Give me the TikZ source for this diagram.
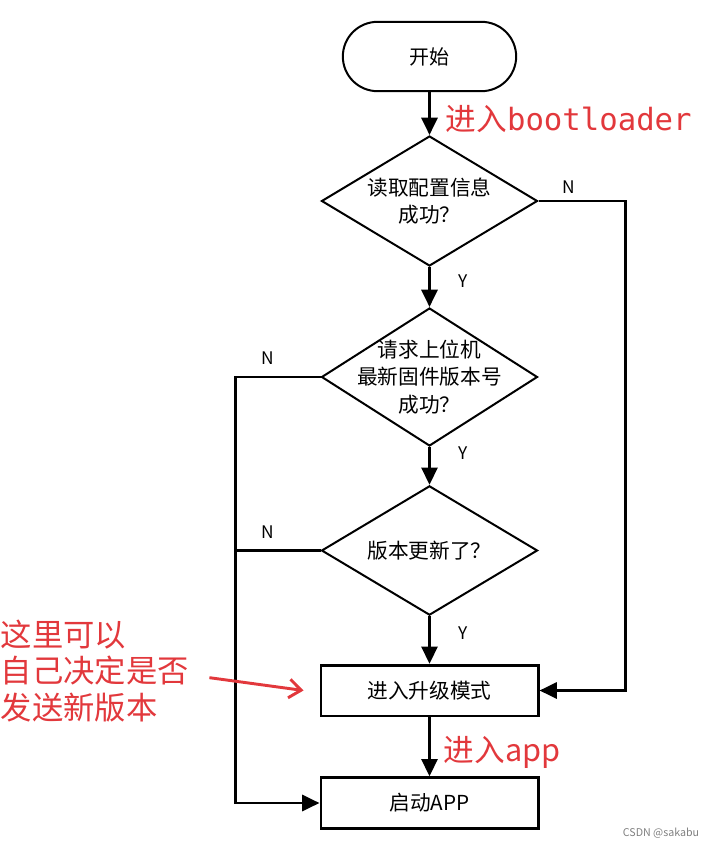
\documentclass[tikz,border=0pt]{standalone}
\usepackage{fontspec}
\setmainfont{Noto Sans CJK SC}
\newfontfamily\codefont{DejaVu Sans Mono}
\usepackage{tikz}
\usetikzlibrary{positioning,arrows.meta,shapes.geometric}
\definecolor{notered}{HTML}{E2383C}

\begin{document}
\begin{tikzpicture}[x=0.75pt,y=-0.75pt,
  startbox/.style={draw,line width=1.5pt,rounded corners=26pt,minimum width=130pt,minimum height=52pt,font=\fontsize{15}{18}\selectfont},
  decide/.style={draw,diamond,line width=1.5pt,minimum width=162pt,inner sep=0pt},
  dectext/.style={align=center,inner sep=0pt,font=\fontsize{15.5}{20.5}\selectfont},
  procbox/.style={draw,line width=2pt,minimum width=163pt,minimum height=38pt,font=\fontsize{15.5}{18}\selectfont},
  conn/.style={line width=2.2pt},
  arr/.style={conn,-{Triangle[length=13pt,width=12pt]}},
  yn/.style={font=\fontsize{13}{15}\selectfont},
  note/.style={text=notered,font=\fontsize{23}{28}\selectfont},
  notearr/.style={notered,line width=2.2pt,-{Straight Barb[length=9pt,width=14pt]}}
]
\useasboundingbox (0,0) rectangle (711,846);

% boxes
\node[startbox] (start) at (429.5,56.5) {开始};
\node[decide,minimum height=97.5pt,label={[dectext]center:读取配置信息\\成功？}] (read) at (429.5,201) {};
\node[decide,minimum height=103.5pt,label={[dectext]center:请求上位机\\最新固件版本号\\成功？}] (req) at (429.5,377) {};
\node[decide,minimum height=97pt,label={[dectext]center:版本更新了？}] (ver) at (429.5,550.5) {};
\node[procbox] (upgrade) at (429.5,690.5) {进入升级模式};
\node[procbox] (app) at (429.5,803) {启动APP};

% main flow
\draw[arr] (start) -- (read);
\draw[arr] (read) -- (req);
\draw[arr] (req) -- (ver);
\draw[arr] (ver) -- (upgrade);
\draw[arr] (upgrade) -- (app);

% no branches
\draw[arr] (read.east) -- ++(87,0) |- (upgrade.east);
\draw[arr] (req.west) -- ++(-85,0) |- (app.west);
\draw[conn] (ver.west) -- ++(-85,0);

\node[yn] at (569,187) {N};
\node[yn] at (463,281) {Y};
\node[yn] at (268,358) {N};
\node[yn] at (463,453) {Y};
\node[yn] at (268,532) {N};
\node[yn] at (463,633) {Y};

% notes
\node[note,anchor=west] (bootnote) at (441,119) {进入{\codefont bootloader}};
\node[note,anchor=west] (appnote) at (439,752) {进入app};
\node[note,anchor=west,align=left,font=\fontsize{23.5}{27.5}\selectfont] (note) at (-4,671) {这里可以\\自己决定是否\\发送新版本};
\draw[notearr] ([xshift=12pt,yshift=-5pt]note.east) -- ([xshift=-12pt]upgrade.west);

\node[text=gray,font=\fontsize{8}{10}\selectfont] (mark) at (661,833) {CSDN @sakabu};
\end{tikzpicture}
\end{document}
